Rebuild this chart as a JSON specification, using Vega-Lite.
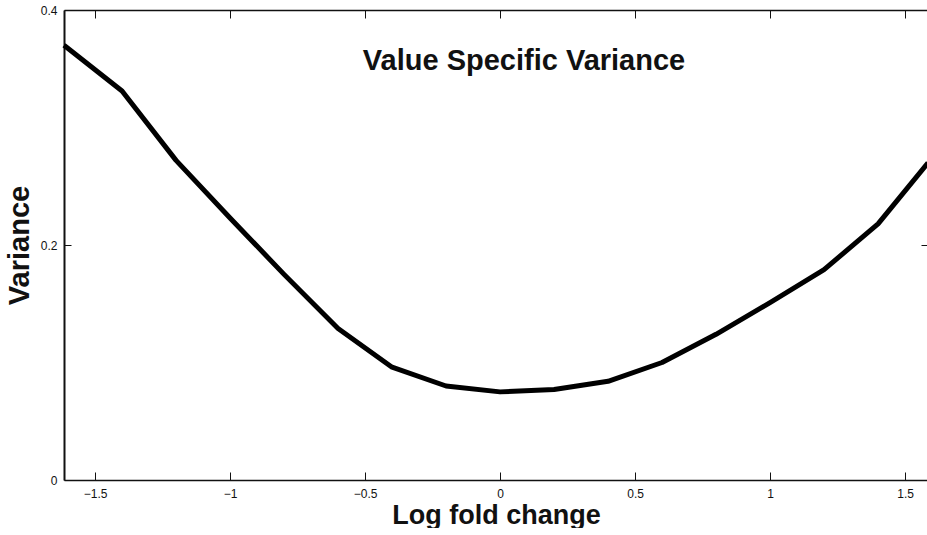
{
  "$schema": "https://vega.github.io/schema/vega-lite/v6.json",
  "width": 864,
  "height": 470,
  "padding": {"left": 5, "top": 4, "right": 0, "bottom": 0},
  "background": "white",
  "title": {
    "text": "Value Specific Variance",
    "frame": "group",
    "anchor": "middle",
    "dx": 28,
    "offset": -72,
    "baseline": "top",
    "font": "Liberation Sans",
    "fontSize": 29,
    "fontWeight": "bold",
    "color": "#111"
  },
  "config": {
    "view": {"stroke": null},
    "axis": {
      "labelFont": "Liberation Sans",
      "titleFont": "Liberation Sans",
      "labelColor": "#111",
      "titleColor": "#111",
      "tickColor": "#111",
      "domainColor": "#111",
      "grid": false
    }
  },
  "data": {
    "values": [
      {"lfc": -1.615, "variance": 0.370},
      {"lfc": -1.4, "variance": 0.331},
      {"lfc": -1.2, "variance": 0.272},
      {"lfc": -1.0, "variance": 0.223},
      {"lfc": -0.8, "variance": 0.175},
      {"lfc": -0.6, "variance": 0.129},
      {"lfc": -0.4, "variance": 0.096},
      {"lfc": -0.2, "variance": 0.080},
      {"lfc": 0.0, "variance": 0.075},
      {"lfc": 0.2, "variance": 0.077},
      {"lfc": 0.4, "variance": 0.084},
      {"lfc": 0.6, "variance": 0.100},
      {"lfc": 0.8, "variance": 0.124},
      {"lfc": 1.0, "variance": 0.151},
      {"lfc": 1.2, "variance": 0.179},
      {"lfc": 1.4, "variance": 0.218},
      {"lfc": 1.585, "variance": 0.270}
    ]
  },
  "layer": [
    {
      "mark": {"type": "line", "color": "black", "strokeWidth": 5, "strokeJoin": "round"},
      "encoding": {
        "x": {
          "field": "lfc",
          "type": "quantitative",
          "scale": {"domain": [-1.615, 1.585], "nice": false, "zero": false},
          "axis": {
            "orient": "bottom",
            "title": "Log fold change",
            "titleFontSize": 27,
            "titleFontWeight": "bold",
            "titlePadding": 3,
            "values": [-1.5, -1, -0.5, 0, 0.5, 1, 1.5],
            "format": ".1~f",
            "labelFontSize": 12,
            "labelPadding": 16,
            "tickSize": -8,
            "domainWidth": 1.5
          }
        },
        "y": {
          "field": "variance",
          "type": "quantitative",
          "scale": {"domain": [0, 0.4], "nice": false},
          "axis": {
            "orient": "left",
            "title": "Variance",
            "titleFontSize": 29,
            "titleFontWeight": "bold",
            "titlePadding": 6,
            "values": [0, 0.2, 0.4],
            "format": ".1~f",
            "labelFontSize": 12,
            "labelPadding": 14,
            "tickSize": -7,
            "domainWidth": 2
          }
        }
      }
    },
    {
      "mark": {"type": "line", "strokeOpacity": 0},
      "encoding": {
        "x": {
          "field": "lfc",
          "type": "quantitative",
          "axis": {
            "orient": "top",
            "title": null,
            "labels": false,
            "values": [-1.5, -1, -0.5, 0, 0.5, 1, 1.5],
            "tickSize": -8,
            "domainWidth": 1.5
          }
        },
        "y": {
          "field": "variance",
          "type": "quantitative",
          "axis": {
            "orient": "right",
            "title": null,
            "labels": false,
            "values": [0, 0.2, 0.4],
            "tickSize": -7
          }
        }
      }
    }
  ],
  "resolve": {"axis": {"x": "independent", "y": "independent"}}
}
